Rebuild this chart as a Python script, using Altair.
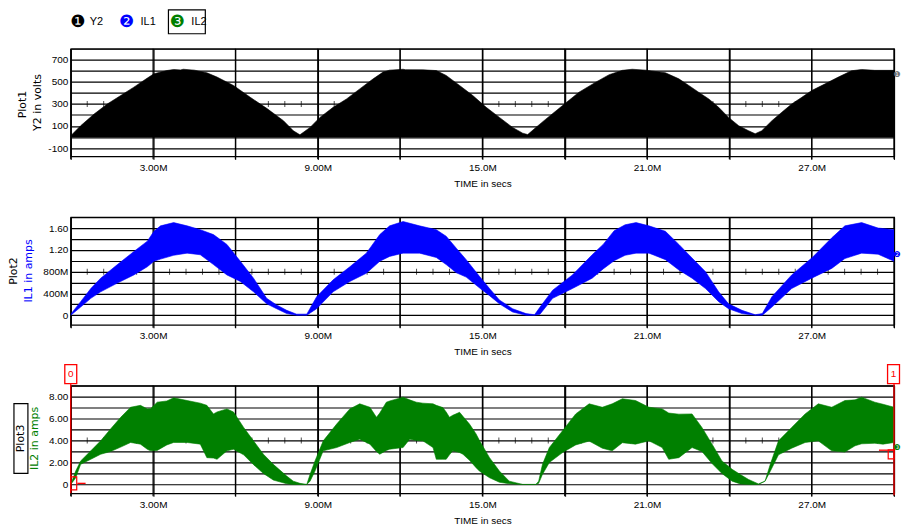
import altair as alt
import pandas as pd

# ---------------- data ----------------
# time in ms ("M"), Y2 in volts: upper envelope, filled down to 0
t_y2 = [0, 0.36, 0.85, 1.33, 1.82, 2.30, 2.79, 3.03, 3.5, 3.75,
        4.0, 4.1, 4.5, 4.96, 5.33, 5.93, 6.54, 7.14, 7.75, 8.11,
        8.35, 8.72, 9.08, 9.56, 10.05, 10.53, 11.02, 11.38, 11.62, 12.11,
        12.2, 12.83, 13.32, 13.68, 14.17, 14.65, 15.14, 15.62, 16.1, 16.47,
        16.65, 16.95, 17.31, 17.92, 18.52, 19.13, 19.62, 20.1, 20.46, 20.95,
        21.67, 22.16, 22.52, 22.88, 23.25, 23.61, 23.97, 24.34, 24.7, 24.94,
        25.18, 25.55, 25.91, 26.27, 26.64, 27.0, 27.49, 27.97, 28.45, 28.82,
        29.3, 30.0]
y2_upper = [12, 102, 208, 299, 376, 452, 534, 573, 602, 612,
            608, 614, 606, 582, 543, 467, 360, 260, 148, 57,
            20, 87, 178, 269, 345, 436, 527, 588, 606, 614,
            610, 609, 602, 558, 467, 376, 269, 178, 87, 35,
            22, 87, 162, 285, 406, 497, 565, 604, 614, 606,
            582, 527, 467, 406, 345, 269, 178, 102, 57, 30,
            57, 148, 224, 299, 360, 421, 482, 543, 600, 612,
            604, 604]

# IL1 in amps: upper / lower envelope of the ripple band
t_il1 = [0, 0.36, 0.73, 1.09, 1.7, 2.3, 2.79, 3.03, 3.27, 3.75,
         4.24, 4.72, 5.2, 5.69, 6.18, 6.66, 7.14, 7.5, 7.87, 8.23,
         8.6, 8.96, 9.56, 10.17, 10.77, 11.26, 11.62, 12.11, 12.71,
         13.32, 13.68, 14.05, 14.41, 14.9, 15.26, 15.62, 16.1, 16.59, 16.9,
         17.1, 17.56, 18.28, 19.0, 19.4, 19.8, 20.2, 20.6, 21.07, 21.67,
         22.16, 22.64, 23.13, 23.61, 23.97, 24.46, 24.94, 25.2, 25.55, 26.27,
         27.0, 27.73, 28.21, 28.82, 29.42, 30.0]
il1_upper = [0.02, 0.25, 0.49, 0.68, 0.93, 1.17, 1.36, 1.54, 1.64, 1.70,
             1.64, 1.57, 1.48, 1.30, 0.99, 0.68, 0.31, 0.19, 0.09, 0.02,
             0.02, 0.34, 0.65, 0.89, 1.14, 1.48, 1.64, 1.72, 1.64,
             1.57, 1.45, 1.23, 1.02, 0.71, 0.49, 0.28, 0.12, 0.03, 0.01,
             0.15, 0.46, 0.74, 1.11, 1.30, 1.55, 1.66, 1.70, 1.64, 1.54,
             1.30, 1.05, 0.80, 0.43, 0.21, 0.09, 0.01, 0.03, 0.34, 0.74,
             1.05, 1.42, 1.64, 1.70, 1.60, 1.57]
il1_lower = [0, 0.15, 0.31, 0.43, 0.59, 0.74, 0.89, 0.99, 1.03, 1.10,
             1.14, 1.11, 0.93, 0.74, 0.62, 0.43, 0.21, 0.12, 0.03, 0,
             0, 0.12, 0.43, 0.62, 0.77, 0.99, 1.08, 1.14, 1.14,
             1.06, 0.93, 0.78, 0.70, 0.50, 0.36, 0.21, 0.06, 0, 0,
             0.02, 0.31, 0.49, 0.68, 0.85, 1.0, 1.10, 1.14, 1.14, 1.02,
             0.83, 0.68, 0.49, 0.25, 0.12, 0.03, 0, 0, 0.15, 0.49,
             0.68, 0.86, 1.04, 1.14, 1.12, 0.99]

# IL2 in amps: upper / lower envelope
t_il2 = [0, 0.18, 0.36, 0.73, 1.09, 1.45, 1.82, 2.18, 2.54, 2.79,
         2.91, 3.15, 3.5, 3.75, 4.24, 4.72, 4.96, 5.2, 5.33, 5.69,
         5.93, 6.3, 6.66, 7.02, 7.38, 7.87, 8.11, 8.35,
         8.6, 8.72, 8.9, 9.2, 9.69, 10.17, 10.53, 10.9, 11.14, 11.26,
         11.5, 11.62, 12.11, 12.35, 12.59, 12.83, 13.2, 13.32, 13.56, 13.68,
         13.8, 13.92, 14.17, 14.29, 14.53, 14.77, 14.9, 15.26, 15.62, 15.98,
         16.47, 16.95,
         17.05, 17.19, 17.44, 17.92, 18.4, 18.89, 19.37, 19.73, 20.1, 20.58,
         21.07, 21.55, 21.79, 22.16, 22.64, 23.0, 23.37, 23.73, 24.1, 24.4,
         24.7, 25.06, 25.3, 25.49, 25.79, 26.27, 26.76, 27.24, 27.73, 28.21,
         28.58, 28.82, 29.3, 29.6, 30.0]
il2_upper = [0, 1.22, 2.14, 3.06, 3.97, 5.05, 6.11, 7.03, 7.2, 6.88,
             6.9, 7.49, 7.6, 7.89, 7.64, 7.4, 7.2, 6.42, 6.6, 6.88,
             6.6, 5.19, 3.97, 2.75, 1.83, 0.76, 0.30, 0.1,
             0, 0.92, 2.14, 3.97, 5.5, 6.88, 7.34, 7.03, 6.11, 6.5,
             7.49, 7.6, 7.95, 7.7, 7.49, 7.4, 7.34, 7.2, 7.0, 6.6,
             6.11, 6.3, 6.57, 6.2, 5.5, 4.6, 3.97, 2.44, 1.22, 0.3,
             0, 0,
             0.3, 1.83, 3.36, 4.89, 6.42, 7.34, 7.03, 7.34, 7.8, 7.64,
             7.03, 6.88, 6.5, 6.4, 6.42, 5.19, 3.67, 2.14, 1.38, 0.9,
             0.45, 0.05, 0.3, 1.83, 3.97, 5.19, 6.42, 7.34, 7.03, 7.64,
             7.7, 7.95, 7.49, 7.3, 7.03]
il2_lower = [0, 0.6, 1.83, 2.29, 2.75, 3.0, 3.4, 3.82, 3.67, 3.2,
             3.06, 3.1, 3.6, 3.82, 3.82, 3.67, 2.44, 2.4, 2.29, 3.06,
             3.2, 2.7, 1.8, 1.0, 0.4, 0.06, 0, 0,
             0, 0.3, 1.22, 3.06, 3.36, 3.82, 4.12, 3.67, 3.0, 2.75,
             3.1, 3.21, 3.36, 4.12, 4.0, 3.97, 3.36, 2.29, 2.29, 2.29,
             2.7, 3.06, 2.9, 2.75, 2.2, 1.53, 1.2, 0.61, 0.2, 0.06,
             0, 0,
             0.1, 0.92, 2.0, 2.9, 3.6, 3.95, 3.3, 3.06, 3.8, 3.67,
             3.97, 3.36, 2.29, 2.44, 3.36, 3.0, 1.9, 1.0, 0.3, 0.05,
             0, 0, 0.3, 1.2, 2.7, 3.3, 3.82, 3.97, 3.06, 2.95,
             3.52, 3.7, 3.75, 3.67, 3.82]

# axes
x_grid = [0, 3, 6, 9, 12, 15, 18, 21, 24, 27, 30]
x_label_vals = [3, 9, 15, 21, 27]
x_label_text = ["3.00M", "9.00M", "15.0M", "21.0M", "27.0M"]
minor_ticks = [round(0.6 * k, 1) for k in range(1, 50) if k % 5]

p1_grid = [-100, 0, 100, 200, 300, 400, 500, 600, 700, 800]
p1_label_vals = [-100, 100, 300, 500, 700]
p1_label_text = ["-100", "100", "300", "500", "700"]
p2_grid = [0, 0.2, 0.4, 0.6, 0.8, 1.0, 1.2, 1.4, 1.6, 1.8]
p2_label_vals = [0, 0.4, 0.8, 1.2, 1.6]
p2_label_text = ["0", "400M", "800M", "1.20", "1.60"]
p3_grid = [0, 1, 2, 3, 4, 5, 6, 7, 8, 9]
p3_label_vals = [0, 2, 4, 6, 8]
p3_label_text = ["0", "2.00", "4.00", "6.00", "8.00"]

legend_names = ["Y2", "IL1", "IL2"]
legend_marks = ["\u2776", "\u2777", "\u2778"]
colors = ["#000000", "#0000ff", "#008000"]

# ---------------- chart ----------------
FONT = "Liberation Sans"
GFONT = "DejaVu Sans"
W, H = 826, 108
one = pd.DataFrame({"k": [0]})


def lab_expr(vals, texts):
    parts = [f"abs(datum.value-({v}))<1e-6?'{s}'" for v, s in zip(vals, texts)]
    return ":".join(parts) + ":''"


X_AXIS = alt.Axis(values=x_grid, labelExpr=lab_expr(x_label_vals, x_label_text),
                  title="TIME in secs", grid=True, domain=False, tickSize=3,
                  labelPadding=3, titlePadding=6, labelFlush=False)
X_SCALE = alt.Scale(domain=[0, 30], nice=False, zero=False)


def x_enc():
    return alt.X("t:Q", scale=X_SCALE, axis=X_AXIS)


def y_enc(dom, grid, lv, lt):
    return alt.Y("up:Q", scale=alt.Scale(domain=dom, nice=False, zero=False),
                 axis=alt.Axis(values=grid, labelExpr=lab_expr(lv, lt), title=None,
                               ticks=False, domain=False, grid=True, labelPadding=3))


def txt(s, x, y, color="black", size=10, angle=0, font=FONT, align="center"):
    return alt.Chart(one).mark_text(text=s, color=color, fontSize=size, angle=angle,
                                    font=font, align=align, baseline="middle").encode(
        x=alt.value(x), y=alt.value(y))


def vgrid_layer():
    return alt.Chart(pd.DataFrame({"t": x_grid})).mark_rule(
        color="black", strokeWidth=1.2).encode(x=x_enc(), y=alt.value(0), y2=alt.value(H + 3))


def ticks_layer(level, yenc):
    df = pd.DataFrame({"t": minor_ticks, "up": [level] * len(minor_ticks)})
    return alt.Chart(df).mark_tick(
        color="black", thickness=1, size=6, orient="vertical").encode(x=x_enc(), y=yenc)


def ypix(v, dom):
    return (dom[1] - v) / (dom[1] - dom[0]) * H


def xpix(t):
    return t / 30 * W


BOX = "M-0.63,-1L0.63,-1L0.63,1L-0.63,1Z"

# panel 1
dom1 = [-175, 800]
y1 = y_enc(dom1, p1_grid, p1_label_vals, p1_label_text)
df1 = pd.DataFrame({"t": t_y2, "up": y2_upper})
area1 = alt.Chart(df1).mark_area(color=colors[0], stroke=colors[0], strokeWidth=0.6,
                                 clip=True).encode(x=x_enc(), y=y1, y2=alt.Y2(datum=0))
anchor = alt.Chart(one).mark_rect(opacity=0).encode(
    x=alt.value(-70), x2=alt.value(-69), y=alt.value(-47), y2=alt.value(-46))
legbox = alt.Chart(one).mark_rect(fill="white", stroke="black", strokeWidth=1.2).encode(
    x=alt.value(98), x2=alt.value(135), y=alt.value(-39), y2=alt.value(-15))
p1 = alt.layer(
    anchor, vgrid_layer(), ticks_layer(300, y1), area1,
    txt("Plot1", -48, 56, size=11, angle=270, font=GFONT),
    txt("Y2 in volts", -33, 54, size=11, angle=270, font=GFONT),
    legbox,
    txt(legend_marks[0], 7, -27, color=colors[0], size=17, font=GFONT),
    txt(legend_names[0], 19, -27, size=11, align="left"),
    txt(legend_marks[1], 56, -27, color=colors[1], size=17, font=GFONT),
    txt(legend_names[1], 70, -27, size=11, align="left"),
    txt(legend_marks[2], 107, -27, color=colors[2], size=17, font=GFONT),
    txt(legend_names[2], 121, -27, size=11, align="left"),
    txt(legend_marks[0], W + 3, 26, color="#777777", size=8, font=GFONT),
).properties(width=W, height=H)

# panel 2
dom2 = [-0.175, 1.8]
y2e = y_enc(dom2, p2_grid, p2_label_vals, p2_label_text)
df2 = pd.DataFrame({"t": t_il1, "up": il1_upper, "lo": il1_lower})
area2 = alt.Chart(df2).mark_area(color=colors[1], stroke=colors[1], strokeWidth=0.6,
                                 clip=True).encode(x=x_enc(), y=y2e, y2="lo:Q")
p2 = alt.layer(
    vgrid_layer(), ticks_layer(0.8, y2e), area2,
    txt("Plot2", -57, 54, size=11, angle=270, font=GFONT),
    txt("IL1 in amps", -42, 54, color=colors[1], size=11, angle=270, font=GFONT),
    txt(legend_marks[1], W + 3, 38, color=colors[1], size=8, font=GFONT),
).properties(width=W, height=H)

# panel 3
dom3 = [-0.8, 9]
y3 = y_enc(dom3, p3_grid, p3_label_vals, p3_label_text)
df3 = pd.DataFrame({"t": t_il2, "up": il2_upper, "lo": il2_lower})
area3 = alt.Chart(df3).mark_area(color=colors[2], stroke=colors[2], strokeWidth=0.6,
                                 clip=True).encode(x=x_enc(), y=y3, y2="lo:Q")
plotbox = alt.Chart(one).mark_rect(fill="white", stroke="black", strokeWidth=1.2).encode(
    x=alt.value(-57), x2=alt.value(-43), y=alt.value(18), y2=alt.value(88))
RED = "#ff0000"
cursor_t = [0, 30]
cur_l = alt.Chart(one).mark_rule(color=RED, strokeWidth=1.3).encode(
    x=alt.value(xpix(cursor_t[0])), y=alt.value(-2), y2=alt.value(108))
cur_r = alt.Chart(one).mark_rule(color=RED, strokeWidth=1.3).encode(
    x=alt.value(xpix(cursor_t[1])), y=alt.value(-2), y2=alt.value(110))
box_l = alt.Chart(one).mark_point(shape=BOX, size=361, filled=False, color=RED,
                                  strokeWidth=1.3, opacity=1).encode(
    x=alt.value(xpix(cursor_t[0])), y=alt.value(-11.5))
box_r = alt.Chart(one).mark_point(shape=BOX, size=361, filled=False, color=RED,
                                  strokeWidth=1.3, opacity=1).encode(
    x=alt.value(xpix(cursor_t[1]) - 0.5), y=alt.value(-11.5))
lab_l = txt("0", xpix(cursor_t[0]), -11.5, color=RED)
lab_r = txt("1", xpix(cursor_t[1]) - 0.5, -11.5, color=RED)
mk_l = alt.Chart(one).mark_point(shape="M0,-1L0.92,-1L0.92,1L0,1Z", size=169, filled=False,
                                 color=RED, strokeWidth=1.2, opacity=1).encode(
    x=alt.value(xpix(0)), y=alt.value(ypix(0.1, dom3)))
hl_l = alt.Chart(one).mark_rule(color=RED, strokeWidth=1.3).encode(
    x=alt.value(xpix(0.24)), x2=alt.value(xpix(0.54)), y=alt.value(ypix(0.1, dom3)))
mk_r = alt.Chart(one).mark_point(shape="M-1.3,-1L0,-1L0,1L-1.3,1Z", size=81, filled=False,
                                 color=RED, strokeWidth=1.2, opacity=1).encode(
    x=alt.value(xpix(30)), y=alt.value(ypix(2.74, dom3)))
hl_r = alt.Chart(one).mark_rule(color=RED, strokeWidth=1.3).encode(
    x=alt.value(xpix(29.45)), x2=alt.value(xpix(30)), y=alt.value(ypix(3.12, dom3)))
p3 = alt.layer(
    vgrid_layer(), ticks_layer(4, y3), area3,
    plotbox,
    txt("Plot3", -50, 53, size=11, angle=270, font=GFONT),
    txt("IL2 in amps", -36, 53, color=colors[2], size=11, angle=270, font=GFONT),
    cur_l, cur_r, box_l, box_r, lab_l, lab_r, mk_l, hl_l, mk_r, hl_r,
    txt(legend_marks[2], W + 3, 63, color=colors[2], size=8, font=GFONT),
).properties(width=W, height=H)

chart = alt.vconcat(p1, p2, p3, spacing=61, bounds="flush", padding=0).configure(
    background="white"
).configure_view(
    stroke="black", strokeWidth=1.2
).configure_axis(
    gridColor="black", gridWidth=1.2, gridOpacity=1, tickColor="black", tickWidth=1,
    labelFont=FONT, labelFontSize=10, labelColor="black",
    titleFont=FONT, titleFontSize=10, titleFontWeight="normal", titleColor="black",
)

chart.save("out.html", embed_options={"renderer": "svg", "actions": False})
